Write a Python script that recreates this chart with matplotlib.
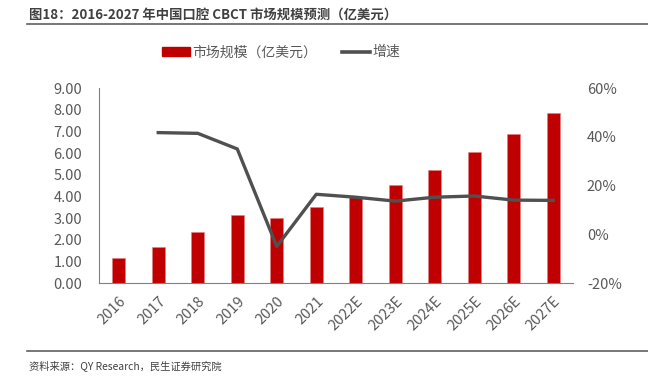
import numpy as np
import matplotlib as mpl
import matplotlib.pyplot as plt
from matplotlib.lines import Line2D

plt.rcParams['font.family'] = ['Noto Sans CJK SC', 'DejaVu Sans']

years = ['2016', '2017', '2018', '2019', '2020', '2021',
         '2022E', '2023E', '2024E', '2025E', '2026E', '2027E']
market = [1.17, 1.66, 2.34, 3.15, 3.00, 3.49, 3.95, 4.54, 5.21, 6.03, 6.88, 7.83]
growth = [np.nan, 41.7, 41.4, 35.0, -5.0, 16.4, 15.2, 13.6, 15.2, 15.7, 14.0, 13.9]

grey = '#595959'
fig = plt.figure(figsize=(6.48, 3.87), dpi=100)
ax = fig.add_axes([0.1528, 0.2687, 0.7315, 0.5039])
x = np.arange(len(years))
bars = ax.bar(x, market, width=0.34, color='#C00000', edgecolor='#E08080', lw=0.4, zorder=2)
ax.set_xlim(-0.5, len(years) - 0.5)
ax.set_ylim(0, 9)
ax.set_yticks(np.arange(0, 10, 1))
ax.set_yticklabels(['%.2f' % v for v in np.arange(0, 10, 1)])
ax.set_xticks(x)
ax.set_xticklabels(years, rotation=45, ha='right', rotation_mode='anchor')
ax.tick_params(axis='both', colors=grey, labelsize=10.5, length=0)
ax.tick_params(axis='y', pad=12)
ax.tick_params(axis='x', pad=8)
for s in ['top', 'right']:
	ax.spines[s].set_visible(False)
ax.spines['left'].set_color('#808080')
ax.spines['bottom'].set_color('#808080')

ax2 = ax.twinx()
ax2.plot(x, growth, color='#505050', lw=2.4, zorder=3)
ax2.set_ylim(-20, 60)
ax2.set_yticks([-20, 0, 20, 40, 60])
ax2.set_yticklabels(['%d%%' % v for v in [-20, 0, 20, 40, 60]])
ax2.tick_params(axis='y', colors=grey, labelsize=10.5, length=0, pad=10)
for s in ['top', 'right', 'left', 'bottom']:
	ax2.spines[s].set_visible(False)

# legend
handles = [mpl.patches.Patch(color='#C00000'), Line2D([0], [0], color='#505050', lw=2.6)]
fig.legend(handles, ['市场规模（亿美元）', '增速'], loc='center', bbox_to_anchor=(0.434, 0.865),
           ncol=2, frameon=False, fontsize=10, labelcolor=grey, handlelength=2.0,
           handleheight=0.6, columnspacing=1.8, handletextpad=0.2)

# title and source
fig.text(0.045, 0.962, '图18：2016-2027 年中国口腔 CBCT 市场规模预测（亿美元）',
         fontsize=9.6, fontweight='bold', color='#404040', va='center')
fig.add_artist(Line2D([0.042, 1.0], [0.937, 0.937], color='#606060', lw=1.2))
fig.add_artist(Line2D([0.042, 1.0], [0.093, 0.093], color='#606060', lw=1.2))
fig.text(0.045, 0.055, '资料来源：QY Research，民生证券研究院', fontsize=7.4, color='#404040', va='center')

plt.savefig('out.png', dpi=100)
